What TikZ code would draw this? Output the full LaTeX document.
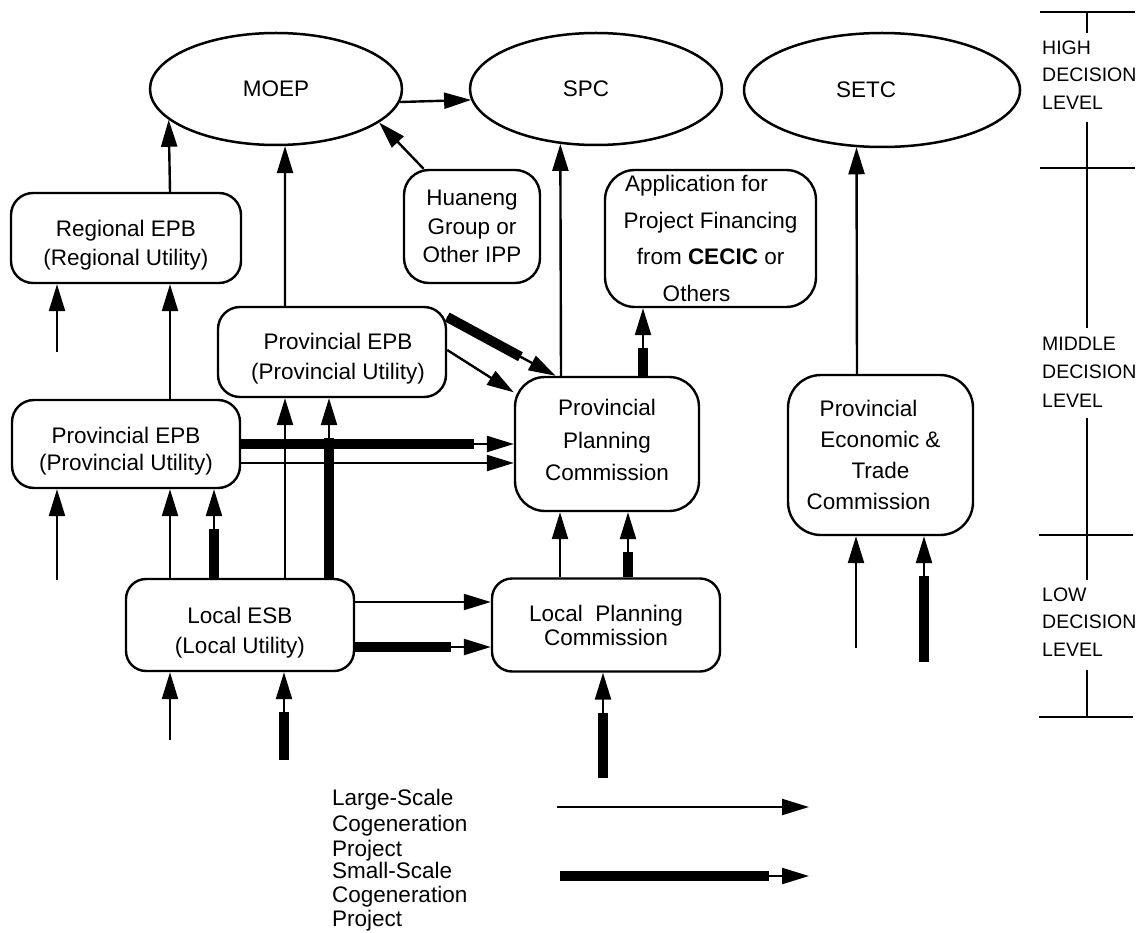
\documentclass[tikz,border=0pt]{standalone}
\usepackage{fontspec}
\setmainfont{Liberation Sans}
\usetikzlibrary{arrows.meta,shapes.geometric,calc}
\newcommand\fatline[2]{\draw[arr] #1 -- #2; \draw[fat] #1 -- #2;}
\newcommand\topstrut{\rule{0pt}{30pt}}
\begin{document}
\begin{tikzpicture}[x=1pt,y=-1pt,
  every node/.style={font=\fontsize{22.5}{27}\selectfont},
  box/.style={draw, line width=2.4pt, rounded corners=22pt, align=center, inner sep=0pt},
  oval/.style={draw, ellipse, line width=2.5pt, inner sep=0pt, minimum width=252pt, minimum height=112pt},
  arr/.style={line width=2.4pt, -{Triangle[length=27pt,width=16pt]}},
  fat/.style={line width=10pt, shorten >=40pt},
  tickline/.style={line width=2.6pt},
  lvl/.style={font=\fontsize{19.5}{27.5}\selectfont, align=left, anchor=west, inner sep=0pt},
  legtext/.style={font=\fontsize{22.5}{26}\selectfont, align=left, anchor=north west, inner sep=0pt},
]
\useasboundingbox (0,0) rectangle (1142,933);

% ellipses
\node[oval] (moep) at (276,89) {MOEP};
\node[oval] (spc) at (596,89) {SPC\hspace*{20pt}};
\node[oval, minimum width=276pt, minimum height=114pt] (setc) at (882,90) {SETC\hspace*{32pt}};

% boxes
\node[box, minimum width=230pt, minimum height=90pt, font=\fontsize{22.5}{29}\selectfont] (rgn) at (126,238) {\topstrut Regional EPB\\(Regional Utility)};
\node[box, minimum width=136pt, minimum height=113pt, rounded corners=25pt, font=\fontsize{22.5}{28.5}\selectfont] (hua) at (472,226.5) {Huaneng\\Group or\\Other IPP};
\node[box, minimum width=211pt, minimum height=137pt, rounded corners=30pt, font=\fontsize{22.5}{36.5}\selectfont] (app) at (710.5,238.5) {Application for\hspace*{28pt}\\Project Financing\hspace*{28pt}\\from \textbf{CECIC} or\hspace*{28pt}\\Others\hspace*{28pt}};
\node[box, minimum width=228pt, minimum height=90pt, font=\fontsize{22.5}{30}\selectfont] (upe) at (332,352) {\topstrut\hspace*{12pt}Provincial EPB\\\hspace*{12pt}(Provincial Utility)};
\node[box, minimum width=228pt, minimum height=88pt, font=\fontsize{22.5}{27}\selectfont] (lpe) at (126,444) {\topstrut Provincial EPB\\(Provincial Utility)};
\node[box, minimum width=184pt, minimum height=134pt, rounded corners=30pt, font=\fontsize{22.5}{32.5}\selectfont] (ppc) at (607,444) {Provincial\\Planning\\Commission\rule[-8pt]{0pt}{8pt}};
\node[box, minimum width=185pt, minimum height=160pt, rounded corners=33pt, font=\fontsize{22.5}{31}\selectfont] (petc) at (880.5,455) {Provincial\hspace*{24pt}\\Economic \&\hspace*{24pt}\\Trade\hspace*{24pt}\\Commission\hspace*{24pt}};
\node[box, minimum width=228pt, minimum height=92pt, rounded corners=20pt, font=\fontsize{22.5}{30}\selectfont] (les) at (240,625) {\rule{0pt}{31pt}Local ESB\\(Local Utility)};
\node[box, minimum width=228pt, minimum height=93pt, rounded corners=20pt, font=\fontsize{22.5}{24}\selectfont] (lpc) at (606,625) {Local\ \ Planning\\Commission};

% free ends
\coordinate (f1) at (57,352);
\coordinate (f2) at (57,580);
\coordinate (f3) at (170,740);
\coordinate (f4) at (284,760);
\coordinate (f5) at (603,778);
\coordinate (f6) at (856,648);
\coordinate (f7) at (924,662);
\coordinate (l1a) at (557,807);
\coordinate (l1b) at (809,807);
\coordinate (l2a) at (560,876);
\coordinate (l2b) at (809,876);

% connectors to the top level
\draw[arr] (moep.354) -- (spc.185);
\draw[arr] (hua.130) -- (moep.342);
\draw[arr] ([xshift=44pt]rgn.north) -- (moep.196);
\draw[arr] ([xshift=-47pt]upe.north) -- (moep.279);
\draw[arr] ([xshift=-46pt]ppc.north) -- (spc.237);
\draw[arr] ([xshift=-23.5pt]petc.north) -- (setc.246);

% left column
\draw[arr] ([xshift=44pt]lpe.north) -- ([xshift=44pt]rgn.south);
\draw[arr] (f1) -- (f1 |- rgn.south);
\draw[arr] (f2) -- (f2 |- lpe.south);
\draw[arr] ([xshift=-70pt]les.north) -- ([xshift=44pt]lpe.south);
\fatline{([xshift=-26pt]les.north)}{([xshift=88pt]lpe.south)}
\draw[arr] ([xshift=45pt]les.north) -- ([xshift=-47pt]upe.south);
\fatline{([xshift=89pt]les.north)}{([xshift=-3pt]upe.south)}
\draw[arr] (f3) -- (f3 |- les.south);
\fatline{(f4)}{(f4 |- les.south)}

% to planning commissions
\draw[arr] ([yshift=23pt]les.east) -- ([yshift=23pt]lpc.west);
\fatline{([yshift=-22pt]les.east)}{([yshift=-22pt]lpc.west)}
\draw[arr] ([xshift=-46pt]lpc.north) -- ([xshift=-47pt]ppc.south);
\fatline{([xshift=22pt]lpc.north)}{([xshift=21pt]ppc.south)}
\fatline{(f5)}{(f5 |- lpc.south)}
\fatline{(lpe.east)}{(ppc.west)}
\draw[arr] ([yshift=-19pt]lpe.east) -- ([yshift=-19pt]ppc.west);
\fatline{([yshift=35pt]upe.east)}{(ppc.127)}
\draw[arr] ([yshift=2pt]upe.east) -- (ppc.151);
\fatline{([xshift=36pt]ppc.north)}{([xshift=-67.5pt]app.south)}

% economic & trade
\draw[arr] (f6) -- (f6 |- petc.south);
\fatline{(f7)}{(f7 |- petc.south)}

% legend
\node[legtext, font=\fontsize{22.5}{25.5}\selectfont] (lg1) at (332,789) {Large-Scale\\Cogeneration\\Project};
\node[legtext, font=\fontsize{22.5}{24}\selectfont] (lg2) at (332,862) {Small-Scale\\Cogeneration\\Project};
\draw[arr] (l1a) -- (l1b);
\fatline{(l2a)}{(l2b)}

% decision level scale
\draw[tickline] (1040,12) -- (1135,12);
\draw[tickline] (1087,12) -- (1087,33);
\draw[tickline] (1087,122) -- (1087,328);
\draw[tickline] (1040,168) -- (1135,168);
\draw[tickline] (1087,418) -- (1087,580);
\draw[tickline] (1039,535) -- (1133,535);
\draw[tickline] (1087,670) -- (1087,717);
\draw[tickline] (1039,717) -- (1133,717);
\node[lvl] (hi) at (1042,75) {HIGH\\DECISION\\LEVEL};
\node[lvl, font=\fontsize{19.5}{28.5}\selectfont] (mid) at (1042,372) {MIDDLE\\DECISION\\LEVEL};
\node[lvl] (low) at (1042,622) {LOW\\DECISION\\LEVEL};
\end{tikzpicture}
\end{document}
